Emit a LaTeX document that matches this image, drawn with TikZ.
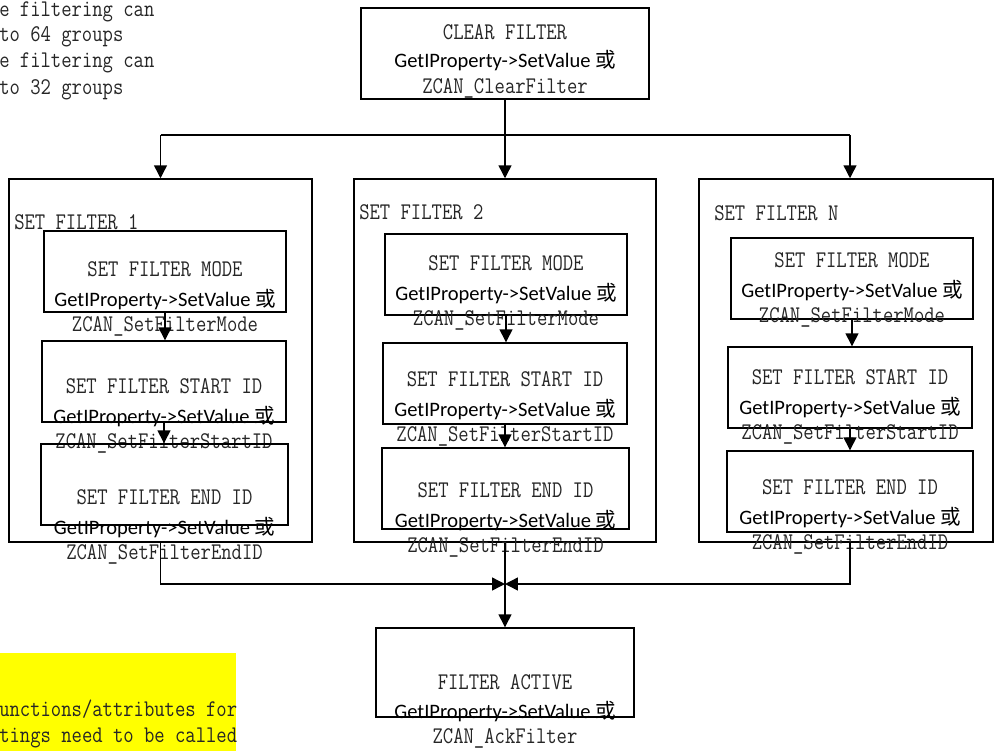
\documentclass[tikz,border=0pt]{standalone}
\usepackage{fontspec}
\usepackage{graphicx}
\newfontfamily\callfont{Carlito}
\newfontfamily\cjkfont{Noto Sans CJK SC}
\usetikzlibrary{arrows.meta}
\definecolor{darkline}{HTML}{000000}
\definecolor{monogray}{HTML}{262626}
\definecolor{notefill}{HTML}{FFFF00}
\newcommand{\narrow}[1]{\scalebox{0.84}[1]{#1}}
\newcommand{\setcall}{GetIProperty->SetValue {\cjkfont 或}}
\tikzset{
  frame/.style={
    rectangle,
    draw=darkline,
    line width=1pt,
    inner sep=0pt
  },
  stepbox/.style={frame, minimum height=2.025cm},
  groupbox/.style={frame, minimum height=9.075cm},
  mainbox/.style={frame},
  notebox/.style={rectangle, fill=notefill, inner sep=0pt},
  monotext/.style={inner sep=0pt, text=monogray, font=\ttfamily\fontsize{17}{20}\selectfont},
  calltext/.style={inner sep=0pt, text=black, font=\callfont\fontsize{14.6}{17}\selectfont},
  line/.style={draw=darkline, line width=1pt},
  flow/.style={line, -{Triangle[length=3.2mm, width=3.2mm]}}
}
\begin{document}
\begin{tikzpicture}[x=0.025cm, y=-0.025cm]
\useasboundingbox (0,0) rectangle (995,751);

% Notes at the edges.
\node[monotext, anchor=west] (note1) at (-1,12) {\narrow{e filtering can}};
\node[monotext, anchor=west] (note2) at (-1,37) {\narrow{to 64 groups}};
\node[monotext, anchor=west] (note3) at (-1,63) {\narrow{e filtering can}};
\node[monotext, anchor=west] (note4) at (-1,90) {\narrow{to 32 groups}};

\node[notebox, anchor=north west, minimum width=5.9cm, minimum height=2.5cm] (hint) at (0,653) {};
\node[monotext, anchor=west] (hint1) at (-1,709) {\narrow{unctions/attributes for}};
\node[monotext, anchor=west] (hint2) at (-1,738) {\narrow{tings need to be called}};

% Clear filter.
\node[mainbox, minimum width=7.2cm, minimum height=2.275cm] (clear) at (505,53.5) {};
\node[monotext] (clear-t) at (505,32) {\narrow{CLEAR FILTER}};
\node[calltext] (clear-c) at (505,61) {\setcall};
\node[monotext] (clear-f) at (505,88) {\narrow{ZCAN\_ClearFilter}};

% Filter groups.
\node[groupbox, minimum width=7.575cm] (set1) at (160.5,360.5) {};
\node[groupbox, minimum width=7.55cm] (set2) at (505,360.5) {};
\node[groupbox, minimum width=7.35cm] (setN) at (846,360.5) {};
\node[monotext, anchor=west] (set1-t) at (14,222) {\narrow{SET FILTER 1}};
\node[monotext, anchor=west] (set2-t) at (359,212) {\narrow{SET FILTER 2}};
\node[monotext, anchor=west] (setN-t) at (714,213) {\narrow{SET FILTER N}};

\foreach \nm/\cx/\yt/\bw/\ty/\title/\fn in {
  m1/165/231/6.05/269/SET FILTER MODE/ZCAN\_SetFilterMode,
  s1/164/341/6.1/386/SET FILTER START ID/ZCAN\_SetFilterStartID,
  e1/164.5/444/6.175/497/SET FILTER END ID/ZCAN\_SetFilterEndID,
  m2/506/234/6.05/263/SET FILTER MODE/ZCAN\_SetFilterMode,
  s2/505/343/6.1/379/SET FILTER START ID/ZCAN\_SetFilterStartID,
  e2/505.5/448/6.175/490/SET FILTER END ID/ZCAN\_SetFilterEndID,
  mN/852/238/6.05/260/SET FILTER MODE/ZCAN\_SetFilterMode,
  sN/850/347/6.1/377/SET FILTER START ID/ZCAN\_SetFilterStartID,
  eN/850/451/6.15/487/SET FILTER END ID/ZCAN\_SetFilterEndID} {
  \node[stepbox, minimum width=\bw cm] (\nm) at (\cx,\yt+40.5) {};
  \node[monotext] (\nm-t) at (\cx,\ty) {\narrow{\title}};
  \node[calltext] (\nm-c) at (\cx,\ty+31) {\setcall};
  \node[monotext] (\nm-f) at (\cx,\ty+57) {\narrow{\fn}};
}

% Filter active.
\node[mainbox, minimum width=6.45cm, minimum height=2.225cm] (active) at (505,672.5) {};
\node[monotext] (active-t) at (505,682) {\narrow{FILTER ACTIVE}};
\node[calltext] (active-c) at (505,712) {\setcall};
\node[monotext] (active-f) at (505,738) {\narrow{ZCAN\_AckFilter}};

% Fan out.
\coordinate (split) at (505,135);
\coordinate (to1) at (160.5,135);
\coordinate (toN) at (850,135);
\draw[line] (clear.south) -- (split);
\draw[line] (to1) -- (toN);
\draw[flow] (to1) -- (set1.north);
\draw[flow] (split) -- (set2.north);
\draw[flow] (toN) -- (toN |- setN.north);

% Steps inside each group.
\foreach \g in {1,2,N} {
  \draw[flow] (m\g.south) -- (m\g.south |- s\g.north);
  \draw[flow] (s\g.south) -- (s\g.south |- e\g.north);
}

% Fan in.
\coordinate (merge) at (505,584);
\coordinate (fromN) at (850,542);
\draw[flow] (set1.south) |- (merge);
\draw[flow] (fromN) |- (merge);
\draw[flow] (set2.south) -- (active.north);

\end{tikzpicture}
\end{document}
